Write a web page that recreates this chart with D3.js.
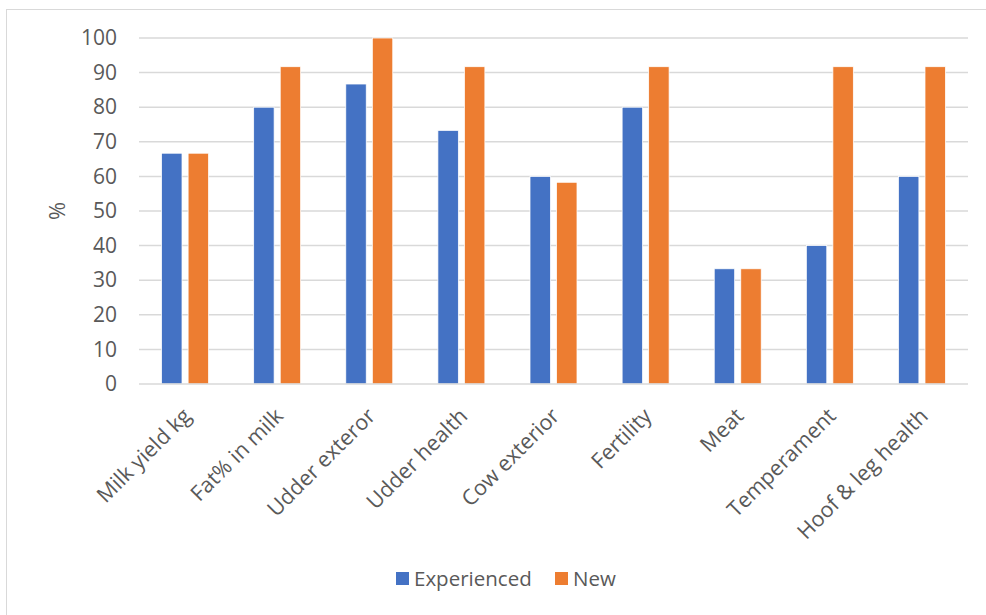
<!DOCTYPE html>
<html>
<head>
<meta charset="utf-8">
<script src="https://cdn.jsdelivr.net/npm/d3@7"></script>
<style>
  body { margin: 0; background: #fff; }
  text { font-family: "Open Sans", sans-serif; fill: #595959; }
</style>
</head>
<body>
<div id="chart"></div>
<script>
const categories = ["Milk yield kg", "Fat% in milk", "Udder exteror", "Udder health", "Cow exterior",
  "Fertility", "Meat", "Temperament", "Hoof & leg health"];
const seriesNames = ["Experienced", "New"];
const experienced = [66.7, 80, 86.7, 73.3, 60, 80, 33.3, 40, 60];
const newcomers = [66.7, 91.7, 100, 91.7, 58.3, 91.7, 33.3, 91.7, 91.7];
const yTicks = [0, 10, 20, 30, 40, 50, 60, 70, 80, 90, 100];
const colors = ["#4472c4", "#ed7d31"];

const width = 986, height = 615;
const margin = { left: 139, right: 18, top: 38, bottom: 231 };
const innerW = width - margin.left - margin.right;
const innerH = height - margin.top - margin.bottom;

const svg = d3.select("#chart").append("svg")
  .attr("width", width).attr("height", height);

// chart frame
svg.append("rect")
  .attr("x", 6.5).attr("y", 9.5)
  .attr("width", 1000).attr("height", 640)
  .attr("fill", "none").attr("stroke", "#d9d9d9");

const g = svg.append("g").attr("transform", `translate(${margin.left},${margin.top})`);

const x0 = d3.scaleBand().domain(categories).range([0, innerW])
  .paddingInner(0.49).paddingOuter(0.245);
const x1 = d3.scaleBand().domain(seriesNames).range([0, x0.bandwidth()]).paddingInner(0.23);
const y = d3.scaleLinear().domain([0, 100]).range([innerH, 0]);

// gridlines
g.append("g").selectAll("line").data(yTicks.slice(1)).join("line")
  .attr("x1", 0).attr("x2", innerW)
  .attr("y1", d => y(d)).attr("y2", d => y(d))
  .attr("stroke", "#d9d9d9").attr("stroke-width", 1.5);

// y axis labels
const yAxis = g.append("g").call(d3.axisLeft(y).tickValues(yTicks).tickSize(0).tickPadding(22));
yAxis.select(".domain").remove();
yAxis.selectAll("text").style("font-size", "21px").attr("fill", "#595959");

// bars
const rows = categories.map((c, i) => ({ cat: c, vals: [experienced[i], newcomers[i]] }));
g.append("g").selectAll("g").data(rows).join("g")
  .attr("transform", d => `translate(${x0(d.cat)},0)`)
  .selectAll("rect").data(d => d.vals.map((v, k) => ({ key: seriesNames[k], v, k })))
  .join("rect")
  .attr("x", d => x1(d.key))
  .attr("y", d => y(d.v))
  .attr("width", x1.bandwidth())
  .attr("height", d => innerH - y(d.v))
  .attr("fill", d => colors[d.k])
  .attr("stroke", "#fff").attr("stroke-width", 0.75);

// x axis baseline
g.append("line").attr("x1", 0).attr("x2", innerW)
  .attr("y1", innerH).attr("y2", innerH)
  .attr("stroke", "#d9d9d9").attr("stroke-width", 1.5);

// x axis labels
const xAxis = g.append("g").attr("transform", `translate(0,${innerH})`)
  .call(d3.axisBottom(x0).tickSize(0).tickPadding(0));
xAxis.select(".domain").remove();
xAxis.selectAll("text")
  .style("font-size", "21.5px")
  .attr("text-anchor", "end")
  .attr("dy", "0.35em")
  .attr("transform", "translate(2,28) rotate(-45)");

// y axis title
svg.append("text")
  .attr("transform", "translate(65,211) rotate(-90)")
  .attr("text-anchor", "middle")
  .style("font-size", "22px")
  .text("%");

// legend
const legend = svg.append("g").attr("transform", "translate(396,579)");
const items = legend.selectAll("g").data(seriesNames).join("g")
  .attr("transform", (d, i) => `translate(${i * 159},0)`);
items.append("rect").attr("x", 0).attr("y", -7).attr("width", 13).attr("height", 13)
  .attr("fill", (d, i) => colors[i]);
items.append("text").attr("x", 18).attr("dy", "0.35em")
  .style("font-size", "20.5px").text(d => d);
</script>
</body>
</html>
